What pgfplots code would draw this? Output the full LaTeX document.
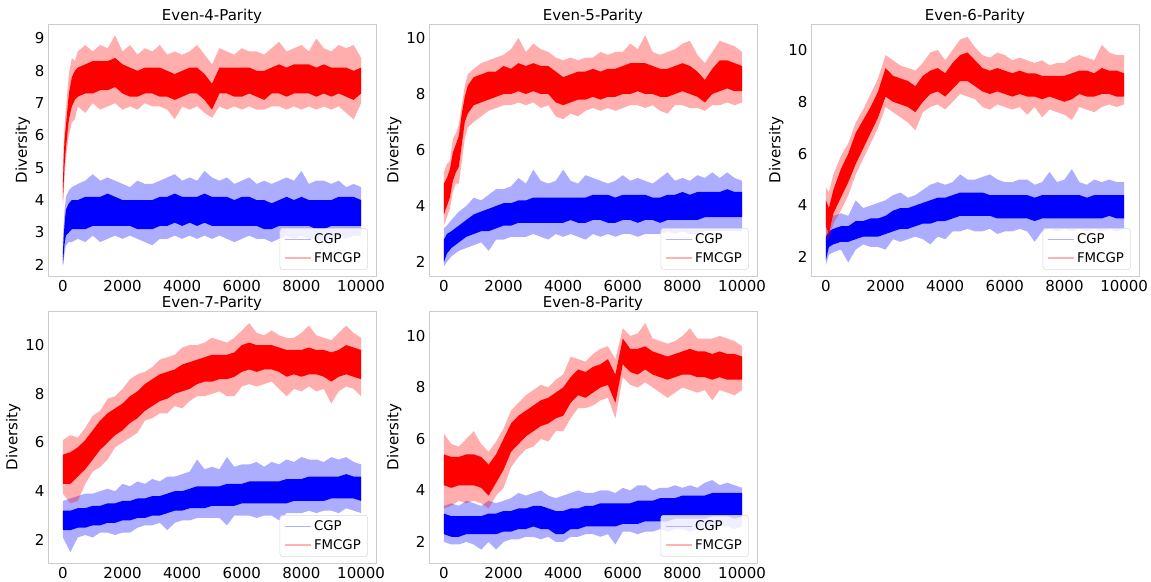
\documentclass[border=0pt]{standalone}
\usepackage{fontspec}
\setmainfont{DejaVu Sans}
\usepackage{pgfplots}
\usepackage{pgfplotstable}
\usepgfplotslibrary{fillbetween}
\pgfplotsset{compat=1.18}

\newcommand\fs{\fontsize{11.25}{13.5}\selectfont}

% columns: x, outer low, inner low, inner high, outer high
\pgfplotstableread{
x ol il ih oh
0 3.8 4.0 4.6 5.2
50 4.6 5.0 5.8 6.2
100 5.3 5.6 6.3 6.8
200 6.0 6.5 7.3 7.9
300 6.4 6.9 7.8 8.4
400 6.5 7.1 8.0 8.3
500 6.9 7.2 8.1 8.6
750 6.7 7.3 8.2 8.8
1000 7.0 7.3 8.3 8.6
1250 6.8 7.4 8.3 8.8
1500 6.9 7.4 8.3 8.7
1750 7.0 7.5 8.4 9.1
2000 6.8 7.3 8.2 8.6
2250 6.9 7.2 8.1 8.8
2500 6.8 7.2 8.0 8.5
2750 7.0 7.3 8.1 8.7
3000 6.9 7.3 8.1 8.6
3250 6.9 7.2 8.1 8.8
3500 6.8 7.2 8.0 8.5
3750 6.5 7.1 7.9 8.6
4000 6.9 7.2 8.0 8.5
4250 6.8 7.3 8.1 8.6
4500 6.9 7.3 8.1 8.8
4750 6.7 7.1 7.9 8.5
5000 6.55 6.8 7.6 8.2
5250 6.9 7.3 8.1 8.7
5500 6.8 7.3 8.1 8.6
5750 6.9 7.2 8.1 8.5
6000 6.8 7.2 8.1 8.7
6250 6.9 7.3 8.1 8.6
6500 6.8 7.2 8.0 8.6
6750 6.8 7.1 8.0 8.5
7000 6.9 7.3 8.1 8.7
7250 6.9 7.3 8.2 8.9
7500 6.8 7.2 8.1 8.6
7750 6.9 7.3 8.2 8.7
8000 6.8 7.3 8.2 8.8
8250 6.9 7.3 8.2 8.6
8500 6.8 7.2 8.1 9.0
8750 6.9 7.3 8.2 8.7
9000 6.8 7.2 8.1 8.6
9250 6.9 7.3 8.1 8.8
9500 6.7 7.2 8.1 8.7
9750 6.5 7.1 8.0 8.8
10000 7.0 7.3 8.1 8.4
}\pAr
\pgfplotstableread{
x ol il ih oh
0 1.95 2.0 2.4 2.8
50 2.3 2.6 3.2 3.6
100 2.6 2.9 3.7 4.1
200 2.7 3.0 3.9 4.3
300 2.7 3.1 4.0 4.4
500 2.8 3.1 4.0 4.5
750 2.7 3.1 4.1 4.6
1000 2.9 3.2 4.1 4.8
1250 2.7 3.2 4.1 4.6
1500 2.8 3.2 4.2 4.7
1750 2.9 3.2 4.1 4.6
2000 2.8 3.2 4.0 4.5
2250 2.9 3.2 4.0 4.4
2500 2.8 3.1 4.0 4.6
2750 2.7 3.1 4.0 4.5
3000 2.6 3.1 4.0 4.5
3250 2.8 3.2 4.1 4.6
3500 2.8 3.2 4.1 4.7
3750 2.9 3.3 4.2 4.8
4000 2.8 3.2 4.1 4.6
4250 2.9 3.3 4.1 4.7
4500 2.8 3.2 4.1 4.6
4750 2.9 3.3 4.2 4.9
5000 2.8 3.2 4.1 4.7
5250 2.9 3.2 4.1 4.6
5500 2.8 3.2 4.1 4.7
5750 2.7 3.2 4.0 4.5
6000 2.8 3.2 4.1 4.6
6250 2.9 3.2 4.1 4.7
6500 2.8 3.2 4.0 4.5
6750 2.8 3.1 4.0 4.6
7000 2.7 3.1 3.9 4.5
7250 2.8 3.2 4.0 4.6
7500 2.9 3.2 4.1 4.7
7750 2.8 3.2 4.0 4.6
8000 2.9 3.2 4.1 4.9
8250 2.8 3.2 4.0 4.5
8500 2.8 3.1 4.0 4.6
8750 2.7 3.1 4.0 4.6
9000 2.8 3.2 4.0 4.5
9250 2.9 3.2 4.1 4.6
9500 2.8 3.2 4.1 4.4
9750 2.9 3.2 4.1 4.5
10000 2.9 3.2 4.0 4.4
}\pAb

\pgfplotstableread{
x ol il ih oh
0 3.3 3.7 4.8 5.2
100 3.6 4.0 5.0 5.5
200 3.9 4.3 5.3 5.6
300 4.5 4.9 5.9 6.4
400 4.8 5.2 6.2 6.6
500 4.8 5.4 6.5 6.9
600 5.6 6.2 7.3 7.6
700 6.4 7.0 7.9 8.3
800 6.8 7.3 8.3 8.7
1000 7.0 7.6 8.6 8.9
1250 7.2 7.7 8.7 9.1
1500 7.4 7.8 8.8 9.2
1750 7.5 7.9 8.8 9.3
2000 7.6 8.0 9.0 9.4
2250 7.6 8.0 8.9 9.6
2500 7.7 8.1 9.1 10.0
2750 7.6 8.0 9.0 9.5
3000 7.7 8.1 9.1 9.8
3250 7.5 8.0 9.0 9.6
3500 7.6 8.0 9.0 9.5
3750 7.2 7.7 8.8 9.3
4000 7.1 7.6 8.6 9.2
4250 7.3 7.7 8.7 9.3
4500 7.2 7.8 8.8 9.2
4750 7.4 7.8 8.8 9.3
5000 7.5 7.9 8.9 9.3
5250 7.4 7.8 8.8 9.5
5500 7.5 7.9 8.9 9.4
5750 7.4 7.9 8.9 9.5
6000 7.5 8.0 9.0 9.5
6250 7.6 8.0 9.1 9.8
6500 7.6 8.1 9.1 9.6
6750 7.5 8.0 9.1 10.1
7000 7.6 8.0 9.0 9.5
7250 7.4 7.9 8.9 9.4
7500 7.3 7.9 8.9 9.5
7750 7.6 8.0 9.0 9.6
8000 7.6 8.1 9.1 9.8
8250 7.5 8.0 9.0 9.9
8500 7.5 7.9 8.8 9.4
8750 7.4 7.7 8.5 9.1
9000 7.6 8.0 8.9 9.5
9250 7.6 8.1 9.2 9.9
9500 7.7 8.2 9.2 9.8
9750 7.6 8.1 9.1 9.7
10000 7.7 8.1 9.0 9.5
}\pBr
\pgfplotstableread{
x ol il ih oh
0 1.85 2.0 2.8 3.2
100 2.0 2.3 3.0 3.3
250 2.2 2.5 3.1 3.5
500 2.4 2.7 3.3 3.8
750 2.5 2.9 3.5 4.0
1000 2.6 3.0 3.7 4.3
1250 2.7 3.1 3.8 4.2
1500 2.4 3.1 3.9 4.4
1750 2.8 3.2 4.0 4.6
2000 2.8 3.3 4.1 4.6
2250 2.9 3.3 4.1 4.7
2500 2.9 3.4 4.2 5.0
2750 2.9 3.4 4.2 4.8
3000 3.0 3.4 4.3 5.3
3250 2.9 3.4 4.3 4.9
3500 2.8 3.4 4.3 4.8
3750 3.0 3.4 4.3 4.9
4000 2.9 3.4 4.3 5.3
4250 3.0 3.5 4.3 4.9
4500 2.9 3.4 4.3 4.8
4750 2.8 3.4 4.3 5.1
5000 3.0 3.5 4.4 5.0
5250 2.9 3.5 4.4 4.9
5500 3.0 3.4 4.4 4.8
5750 2.9 3.4 4.3 4.9
6000 3.0 3.5 4.4 5.1
6250 3.0 3.5 4.4 4.9
6500 2.9 3.4 4.4 5.0
6750 3.0 3.5 4.4 4.9
7000 3.0 3.5 4.3 4.8
7250 3.0 3.4 4.3 5.0
7500 3.1 3.5 4.4 5.2
7750 3.0 3.5 4.4 4.9
8000 3.1 3.5 4.5 5.0
8250 3.0 3.5 4.4 4.9
8500 3.0 3.5 4.5 5.1
8750 3.1 3.6 4.5 5.0
9000 3.1 3.6 4.5 5.2
9250 3.1 3.6 4.5 5.0
9500 3.1 3.6 4.6 5.2
9750 3.1 3.6 4.5 5.0
10000 3.1 3.6 4.5 4.9
}\pBb

\pgfplotstableread{
x ol il ih oh
0 2.8 3.2 4.2 4.7
100 2.7 2.9 3.9 4.5
250 3.3 3.7 4.6 5.2
500 3.8 4.3 5.4 5.9
750 4.4 4.9 6.0 6.4
1000 5.2 5.6 6.8 7.2
1250 5.8 6.2 7.3 7.7
1500 6.4 6.8 7.8 8.3
1750 7.0 7.4 8.4 8.9
2000 7.8 8.2 9.3 9.8
2250 7.6 8.0 9.0 9.6
2500 7.4 7.9 8.9 9.4
2750 7.2 7.8 8.8 9.3
3000 6.9 7.6 8.6 9.2
3250 7.6 8.0 9.0 9.5
3500 7.8 8.3 9.2 9.9
3750 7.9 8.4 9.3 10.0
4000 7.7 8.2 9.1 9.6
4250 8.0 8.5 9.5 10.0
4500 8.3 8.8 9.8 10.4
4750 8.2 8.8 9.9 10.5
5000 8.1 8.6 9.6 10.1
5250 7.8 8.4 9.3 9.8
5500 7.7 8.3 9.2 9.7
5750 7.9 8.4 9.3 9.9
6000 7.8 8.3 9.2 9.8
6250 7.7 8.2 9.1 9.6
6500 7.8 8.3 9.2 9.7
6750 7.5 8.2 9.1 9.6
7000 7.8 8.2 9.1 9.5
7250 7.4 8.1 9.0 9.6
7500 7.7 8.2 9.0 9.4
7750 7.6 8.1 9.0 9.5
8000 7.5 8.0 9.0 9.5
8250 7.3 8.1 9.1 9.7
8500 7.8 8.3 9.2 9.8
8750 7.7 8.2 9.2 9.7
9000 7.6 8.2 9.1 9.6
9250 7.8 8.3 9.3 10.2
9500 7.9 8.3 9.2 9.9
9750 7.8 8.2 9.2 9.8
10000 7.9 8.2 9.1 9.8
}\pCr
\pgfplotstableread{
x ol il ih oh
0 1.7 1.9 2.8 3.2
100 2.1 2.4 3.0 3.5
250 2.2 2.5 3.1 3.6
500 2.3 2.6 3.2 3.7
750 1.8 2.6 3.2 3.6
1000 2.3 2.7 3.4 4.2
1250 2.5 2.8 3.4 3.9
1500 2.4 2.8 3.5 4.0
1750 2.4 2.8 3.5 4.1
2000 2.3 2.9 3.6 4.2
2250 2.7 3.0 3.8 4.4
2500 2.6 3.1 3.9 4.5
2750 2.7 3.1 3.9 4.3
3000 2.8 3.2 4.0 4.4
3250 2.7 3.3 4.1 4.6
3500 2.5 3.3 4.2 4.8
3750 2.8 3.4 4.3 4.9
4000 2.7 3.4 4.3 4.8
4250 3.0 3.5 4.4 4.9
4500 3.0 3.6 4.5 5.2
4750 3.1 3.6 4.5 5.0
5000 3.0 3.6 4.5 5.0
5250 3.0 3.6 4.5 5.1
5500 3.1 3.6 4.4 5.2
5750 2.9 3.5 4.4 5.0
6000 3.0 3.5 4.4 4.9
6250 3.0 3.5 4.4 4.9
6500 3.1 3.5 4.4 5.0
6750 3.0 3.5 4.4 5.0
7000 2.6 3.4 4.3 4.8
7250 3.0 3.5 4.4 4.9
7500 3.1 3.5 4.4 5.3
7750 3.0 3.5 4.4 4.9
8000 3.1 3.5 4.4 5.0
8250 3.0 3.5 4.4 5.4
8500 3.1 3.5 4.4 4.9
8750 3.0 3.5 4.3 4.8
9000 3.1 3.5 4.4 5.0
9250 3.0 3.5 4.4 4.9
9500 3.1 3.6 4.4 5.0
9750 3.0 3.5 4.4 4.9
10000 3.1 3.5 4.4 4.9
}\pCb

\pgfplotstableread{
x ol il ih oh
0 3.9 4.3 5.5 6.1
250 3.5 4.3 5.6 6.3
500 3.6 4.6 5.8 6.2
750 4.3 4.9 6.1 6.6
1000 4.8 5.3 6.5 7.1
1250 5.0 5.7 6.9 7.3
1500 5.3 6.0 7.2 7.8
1750 5.8 6.3 7.4 7.9
2000 6.0 6.5 7.6 8.2
2250 6.2 6.8 7.9 8.6
2500 6.4 7.0 8.1 8.8
2750 6.9 7.3 8.4 8.9
3000 7.0 7.5 8.6 9.1
3250 7.2 7.7 8.8 9.4
3500 7.2 7.8 8.9 9.5
3750 7.5 8.0 9.0 9.6
4000 7.4 8.1 9.2 9.9
4250 7.7 8.2 9.3 10.0
4500 7.9 8.4 9.4 10.0
4750 7.9 8.5 9.5 10.1
5000 8.0 8.5 9.6 10.3
5250 8.1 8.6 9.6 10.2
5500 7.9 8.6 9.6 10.1
5750 7.9 8.7 9.7 10.3
6000 8.3 8.9 10.0 10.6
6250 8.4 9.0 10.1 10.9
6500 8.3 8.9 10.0 10.5
6750 8.4 9.0 10.0 10.4
7000 8.5 9.0 10.0 10.6
7250 8.2 8.9 9.9 10.4
7500 7.9 8.7 9.8 10.3
7750 8.2 8.8 9.8 10.3
8000 8.1 8.7 9.8 10.5
8250 8.3 8.8 9.9 10.8
8500 8.1 8.8 9.8 10.4
8750 8.2 8.7 9.8 10.3
9000 7.6 8.5 9.7 10.2
9250 8.1 8.7 9.8 10.5
9500 8.3 8.8 10.0 10.8
9750 8.2 8.7 9.9 10.5
10000 7.9 8.6 9.8 10.3
}\pDr
\pgfplotstableread{
x ol il ih oh
0 2.1 2.4 3.2 3.6
250 1.5 2.4 3.2 3.7
500 2.1 2.5 3.3 3.8
750 2.2 2.5 3.3 3.9
1000 2.1 2.6 3.4 3.9
1250 2.3 2.6 3.4 4.0
1500 2.3 2.7 3.5 4.1
1750 2.2 2.7 3.5 4.0
2000 2.3 2.8 3.6 4.3
2250 2.3 2.8 3.6 4.2
2500 2.5 2.9 3.7 4.4
2750 2.6 2.9 3.7 4.3
3000 2.6 3.0 3.8 4.5
3250 2.7 3.0 3.8 4.4
3500 2.4 3.1 3.9 4.6
3750 2.7 3.2 4.0 4.6
4000 2.8 3.2 4.0 4.7
4250 2.8 3.3 4.1 4.8
4500 2.9 3.3 4.2 5.3
4750 2.9 3.3 4.2 4.9
5000 2.9 3.4 4.2 5.0
5250 2.9 3.4 4.2 4.9
5500 2.6 3.4 4.3 5.4
5750 3.0 3.4 4.3 5.0
6000 3.0 3.5 4.3 5.1
6250 3.0 3.5 4.4 5.1
6500 2.9 3.5 4.4 5.2
6750 3.0 3.5 4.4 5.0
7000 3.0 3.5 4.4 5.2
7250 2.8 3.5 4.4 5.1
7500 3.1 3.5 4.5 5.3
7750 3.1 3.6 4.5 5.2
8000 3.1 3.6 4.5 5.4
8250 3.2 3.6 4.6 5.3
8500 3.1 3.6 4.6 5.3
8750 3.2 3.6 4.6 5.2
9000 3.2 3.7 4.6 5.4
9250 3.1 3.7 4.6 5.3
9500 3.3 3.7 4.7 5.4
9750 3.2 3.7 4.6 5.2
10000 3.1 3.6 4.6 5.1
}\pDb

\pgfplotstableread{
x ol il ih oh
0 3.3 4.2 5.4 6.2
250 3.4 4.1 5.3 5.8
500 3.6 4.2 5.3 5.7
750 3.5 4.2 5.4 6.0
1000 3.6 4.2 5.4 6.3
1250 3.5 4.1 5.3 5.8
1500 3.3 3.8 5.0 5.5
1750 3.8 4.3 5.4 5.9
2000 4.1 4.8 6.0 6.4
2250 4.9 5.5 6.6 7.1
2500 5.3 5.8 6.9 7.4
2750 5.6 6.1 7.1 7.7
3000 5.7 6.3 7.3 7.9
3250 6.0 6.5 7.5 8.1
3500 5.9 6.6 7.6 8.0
3750 6.3 6.8 7.8 8.3
4000 6.3 6.9 8.0 8.5
4250 6.8 7.4 8.4 9.2
4500 7.2 7.7 8.7 9.1
4750 7.2 7.6 8.6 9.0
5000 7.3 7.8 8.8 9.3
5250 7.5 8.0 8.9 9.5
5500 7.6 8.1 9.1 9.6
5750 6.8 7.4 8.5 9.1
6000 8.4 8.9 9.9 10.3
6250 8.1 8.6 9.5 10.0
6500 8.0 8.5 9.5 10.1
6750 8.2 8.7 9.6 10.5
7000 8.0 8.5 9.4 9.9
7250 7.8 8.4 9.3 9.8
7500 7.6 8.3 9.2 9.7
7750 7.8 8.4 9.3 9.8
8000 8.0 8.5 9.4 10.0
8250 7.9 8.5 9.5 10.3
8500 7.8 8.4 9.4 9.9
8750 7.9 8.4 9.4 9.9
9000 7.5 8.3 9.3 9.9
9250 7.9 8.4 9.4 10.0
9500 7.8 8.3 9.3 9.9
9750 7.7 8.3 9.3 9.8
10000 7.9 8.3 9.2 9.6
}\pEr
\pgfplotstableread{
x ol il ih oh
0 2.0 2.3 3.1 3.4
250 1.9 2.2 3.0 3.5
500 1.9 2.2 3.0 3.4
750 2.0 2.3 3.0 3.6
1000 1.9 2.3 3.0 3.5
1250 1.7 2.3 3.0 3.4
1500 2.0 2.3 3.1 3.6
1750 1.7 2.3 3.1 3.5
2000 2.0 2.4 3.2 3.6
2250 2.1 2.4 3.2 3.7
2500 2.1 2.5 3.3 3.9
2750 2.2 2.5 3.3 3.8
3000 2.2 2.6 3.4 3.9
3250 2.1 2.5 3.4 4.0
3500 2.2 2.5 3.3 3.8
3750 2.0 2.3 3.2 3.7
4000 2.0 2.3 3.2 3.8
4250 2.2 2.5 3.3 3.9
4500 2.2 2.5 3.3 4.0
4750 2.3 2.6 3.4 3.9
5000 2.3 2.6 3.4 3.9
5250 2.2 2.6 3.5 4.0
5500 2.3 2.6 3.5 4.0
5750 1.9 2.6 3.5 3.9
6000 2.4 2.7 3.5 4.1
6250 2.4 2.7 3.5 4.0
6500 2.3 2.7 3.6 4.2
6750 2.4 2.8 3.6 4.2
7000 2.4 2.8 3.6 4.0
7250 2.5 2.8 3.7 4.1
7500 2.4 2.8 3.7 4.1
7750 2.5 2.9 3.7 4.2
8000 2.5 2.9 3.8 4.1
8250 2.4 2.9 3.8 4.2
8500 2.5 2.9 3.8 4.1
8750 2.5 2.9 3.8 4.3
9000 2.5 3.0 3.9 4.4
9250 2.6 3.0 3.9 4.2
9500 2.6 3.0 3.9 4.3
9750 2.5 2.9 3.9 4.2
10000 2.6 3.0 3.9 4.1
}\pEb

% one noisy series drawn as a light outer band and a solid core
\newcommand{\band}[3]{%
  \addplot[draw=none, forget plot, name path=#3ol] table[x=x,y=ol]{#1};
  \addplot[draw=none, forget plot, name path=#3il] table[x=x,y=il]{#1};
  \addplot[draw=none, forget plot, name path=#3ih] table[x=x,y=ih]{#1};
  \addplot[draw=none, forget plot, name path=#3oh] table[x=x,y=oh]{#1};
  \addplot[#2, fill opacity=0.32, draw=none, forget plot] fill between[of=#3oh and #3ol];
  \addplot[#2, draw=none, forget plot] fill between[of=#3ih and #3il];
}
% legend entries drawn as short light lines
\newcommand{\leg}{%
  \addlegendimage{legend image code/.code={\draw[blue!30, line width=1.2pt] (0cm,0cm) -- (0.68cm,0cm);}}
  \addlegendentry{CGP}
  \addlegendimage{legend image code/.code={\draw[red!30, line width=1.2pt] (0cm,0cm) -- (0.68cm,0cm);}}
  \addlegendentry{FMCGP}
}

\pgfplotsset{
  panel/.style={
    scale only axis, width=246pt, height=189pt, anchor=north west,
    xmin=-500, xmax=10500, xtick={0,2000,...,10000},
    scaled x ticks=false,
    /pgf/number format/1000 sep={},
    /pgf/number format/assume math mode=true,
    axis line style={black!20},
    major tick length=0pt,
    tick label style={font=\fs},
    xticklabel style={inner sep=3pt},
    yticklabel style={inner sep=2.5pt},
    ylabel={Diversity}, ylabel style={font=\fs, inner sep=1pt},
    title style={font=\fs, at={(0.5,1)}, anchor=base, yshift=-3.5pt},
    legend cell align=left,
    legend style={at={(0.975,0.025)}, anchor=south east, draw=black!15,
      rounded corners=2pt, fill=white, fill opacity=0.8, text opacity=1,
      font=\fontsize{10}{12}\selectfont, row sep=1pt},
  }
}

\begin{document}
\begin{tikzpicture}

\begin{axis}[panel, at={(36pt,-18pt)}, title={Even-4-Parity},
  ymin=1.65, ymax=9.45, ytick={2,...,9}]
\band{\pAb}{blue}{a}
\band{\pAr}{red}{b}
\leg
\end{axis}

\begin{axis}[panel, at={(321.75pt,-18pt)}, title={Even-5-Parity},
  ymin=1.5, ymax=10.5, ytick={2,4,...,10}]
\band{\pBb}{blue}{c}
\band{\pBr}{red}{d}
\leg
\end{axis}

\begin{axis}[panel, at={(608.25pt,-18pt)}, title={Even-6-Parity},
  ymin=1.28, ymax=11.0, ytick={2,4,...,10}]
\band{\pCb}{blue}{e}
\band{\pCr}{red}{f}
\leg
\end{axis}

\begin{axis}[panel, at={(36pt,-233.25pt)}, title={Even-7-Parity},
  ymin=1.05, ymax=11.4, ytick={2,4,...,10}]
\band{\pDb}{blue}{g}
\band{\pDr}{red}{h}
\leg
\end{axis}

\begin{axis}[panel, at={(321.75pt,-233.25pt)}, title={Even-8-Parity},
  ymin=1.18, ymax=10.97, ytick={2,4,...,10}]
\band{\pEb}{blue}{i}
\band{\pEr}{red}{j}
\leg
\end{axis}

\pgfresetboundingbox
\useasboundingbox (0,0) rectangle (863.25pt,-435.75pt);
\end{tikzpicture}
\end{document}
